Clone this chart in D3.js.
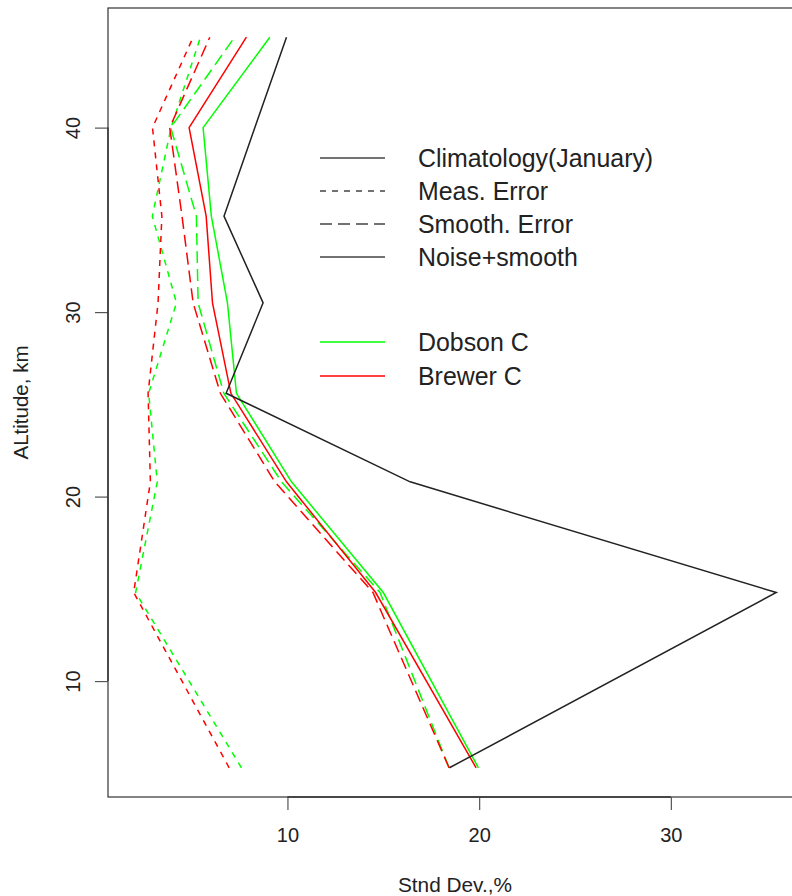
<!DOCTYPE html>
<html>
<head>
<meta charset="utf-8">
<script src="https://cdn.jsdelivr.net/npm/d3@7/dist/d3.min.js"></script>
<style>
    body { margin: 0; background: #fff; }
    svg { display: block; font-family: "Liberation Sans", Arial, Helvetica, sans-serif; }
</style>
</head>
<body>
<svg></svg>
<script>
// altitude levels (km) of each profile point
var altitude = [5.3, 14.8, 20.8, 25.6, 30.5, 35.2, 40.0, 44.9];

// standard deviations, %
var climatology = [18.45, 35.5, 16.4, 6.8, 8.73, 6.69, 8.3, 9.95];
var dobsonMeas = [7.6, 2.08, 3.21, 2.76, 4.21, 2.95, 3.93, 5.46];
var brewerMeas = [6.96, 1.98, 2.85, 2.73, 3.25, 3.45, 2.96, 5.08];
var dobsonSmooth = [18.43, 14.83, 9.69, 6.68, 5.34, 5.25, 3.91, 7.24];
var brewerSmooth = [18.43, 14.46, 9.34, 6.5, 5.08, 4.5, 3.86, 5.95];
var dobsonTotal = [19.96, 15.0, 10.21, 7.34, 6.87, 6.03, 5.6, 9.08];
var brewerTotal = [19.84, 14.6, 9.95, 7.05, 6.09, 5.76, 4.87, 7.86];

var xTicks = [10, 20, 30];
var yTicks = [10, 20, 30, 40];

var legendLabels = ["Climatology(January)", "Meas. Error", "Smooth. Error", "Noise+smooth", "Dobson C", "Brewer C"];

var width = 792,
    height = 896;

var plot = { left: 108, right: 802, top: 8, bottom: 797 };

var green = "#00ff00",
    red = "#ff0000",
    black = "#222";

var shortDash = "6,6",
    longDash = "12,6";

var series = [
    { values: dobsonMeas, color: green, dash: shortDash },
    { values: brewerMeas, color: red, dash: shortDash },
    { values: dobsonSmooth, color: green, dash: longDash },
    { values: brewerSmooth, color: red, dash: longDash },
    { values: dobsonTotal, color: green, dash: null },
    { values: brewerTotal, color: red, dash: null },
    { values: climatology, color: black, dash: null }
];

// R style: data range stretched by 4% on each side
function padded(ext) {
    var d = (ext[1] - ext[0]) * 0.04;
    return [ext[0] - d, ext[1] + d];
}

var allValues = d3.merge(series.map(function (s) { return s.values; }));

var x = d3.scaleLinear()
    .domain(padded(d3.extent(allValues)))
    .range([plot.left, plot.right]);

var y = d3.scaleLinear()
    .domain(padded(d3.extent(altitude)))
    .range([plot.bottom, plot.top]);

var svg = d3.select("svg")
    .attr("width", width)
    .attr("height", height);

svg.append("rect")
    .attr("width", width)
    .attr("height", height)
    .attr("fill", "#fff");

var line = d3.line()
    .x(function (d) { return x(d[0]); })
    .y(function (d) { return y(d[1]); });

svg.append("g")
    .attr("class", "profiles")
    .selectAll("path")
    .data(series)
    .enter()
    .append("path")
    .attr("d", function (s) { return line(d3.zip(s.values, altitude)); })
    .attr("fill", "none")
    .attr("stroke", function (s) { return s.color; })
    .attr("stroke-width", 1.5)
    .attr("stroke-dasharray", function (s) { return s.dash; });

// box
svg.append("rect")
    .attr("x", plot.left)
    .attr("y", plot.top)
    .attr("width", plot.right - plot.left)
    .attr("height", plot.bottom - plot.top)
    .attr("fill", "none")
    .attr("stroke", "#333")
    .attr("stroke-width", 1.2);

var xAxis = svg.append("g")
    .attr("transform", "translate(0," + plot.bottom + ")")
    .call(d3.axisBottom(x).tickValues(xTicks).tickSize(13).tickPadding(18));

var yAxis = svg.append("g")
    .attr("transform", "translate(" + plot.left + ",0)")
    .call(d3.axisLeft(y).tickValues(yTicks).tickSize(13));

[xAxis, yAxis].forEach(function (ax) {
    ax.select(".domain").remove();
    ax.selectAll("line").attr("stroke", "#555").attr("stroke-width", 1.2);
    ax.selectAll("text")
        .attr("fill", "#222")
        .style("font-size", "20px")
        .style("font-family", "'Liberation Sans', Arial, sans-serif");
});

// R axis line runs from first to last tick
xAxis.append("line")
    .attr("x1", x(xTicks[0]))
    .attr("x2", x(xTicks[xTicks.length - 1]))
    .attr("stroke", "#333")
    .attr("stroke-width", 1.4);

yAxis.append("line")
    .attr("y1", y(yTicks[0]))
    .attr("y2", y(yTicks[yTicks.length - 1]))
    .attr("stroke", "#333")
    .attr("stroke-width", 1.4);

// y labels parallel to the axis
yAxis.selectAll(".tick text")
    .attr("x", 0)
    .attr("y", 0)
    .attr("dy", null)
    .attr("text-anchor", "middle")
    .attr("transform", "translate(-28,0) rotate(-90)");

svg.append("text")
    .attr("x", (plot.left + plot.right) / 2)
    .attr("y", 892)
    .attr("text-anchor", "middle")
    .attr("fill", "#222")
    .style("font-size", "20.8px")
    .text("Stnd Dev.,%");

svg.append("text")
    .attr("transform", "translate(28," + (plot.top + plot.bottom) / 2 + ") rotate(-90)")
    .attr("text-anchor", "middle")
    .attr("fill", "#222")
    .style("font-size", "20.5px")
    .text("ALtitude, km");

// legend
var legendRows = [
    { y: 158, color: "#444", dash: null },
    { y: 191, color: "#444", dash: shortDash },
    { y: 224, color: "#444", dash: longDash },
    { y: 257, color: "#444", dash: null },
    { y: 342, color: green, dash: null },
    { y: 376, color: red, dash: null }
];

var legend = svg.append("g")
    .attr("class", "legend")
    .selectAll("g")
    .data(legendRows)
    .enter()
    .append("g")
    .attr("transform", function (d) { return "translate(0," + d.y + ")"; });

legend.append("line")
    .attr("x1", 320)
    .attr("x2", 385)
    .attr("stroke", function (d) { return d.color; })
    .attr("stroke-width", 1.5)
    .attr("stroke-dasharray", function (d) { return d.dash; });

legend.append("text")
    .attr("x", 418)
    .attr("dy", "0.36em")
    .attr("fill", "#222")
    .style("font-size", "24.9px")
    .text(function (d, i) { return legendLabels[i]; });
</script>
</body>
</html>
